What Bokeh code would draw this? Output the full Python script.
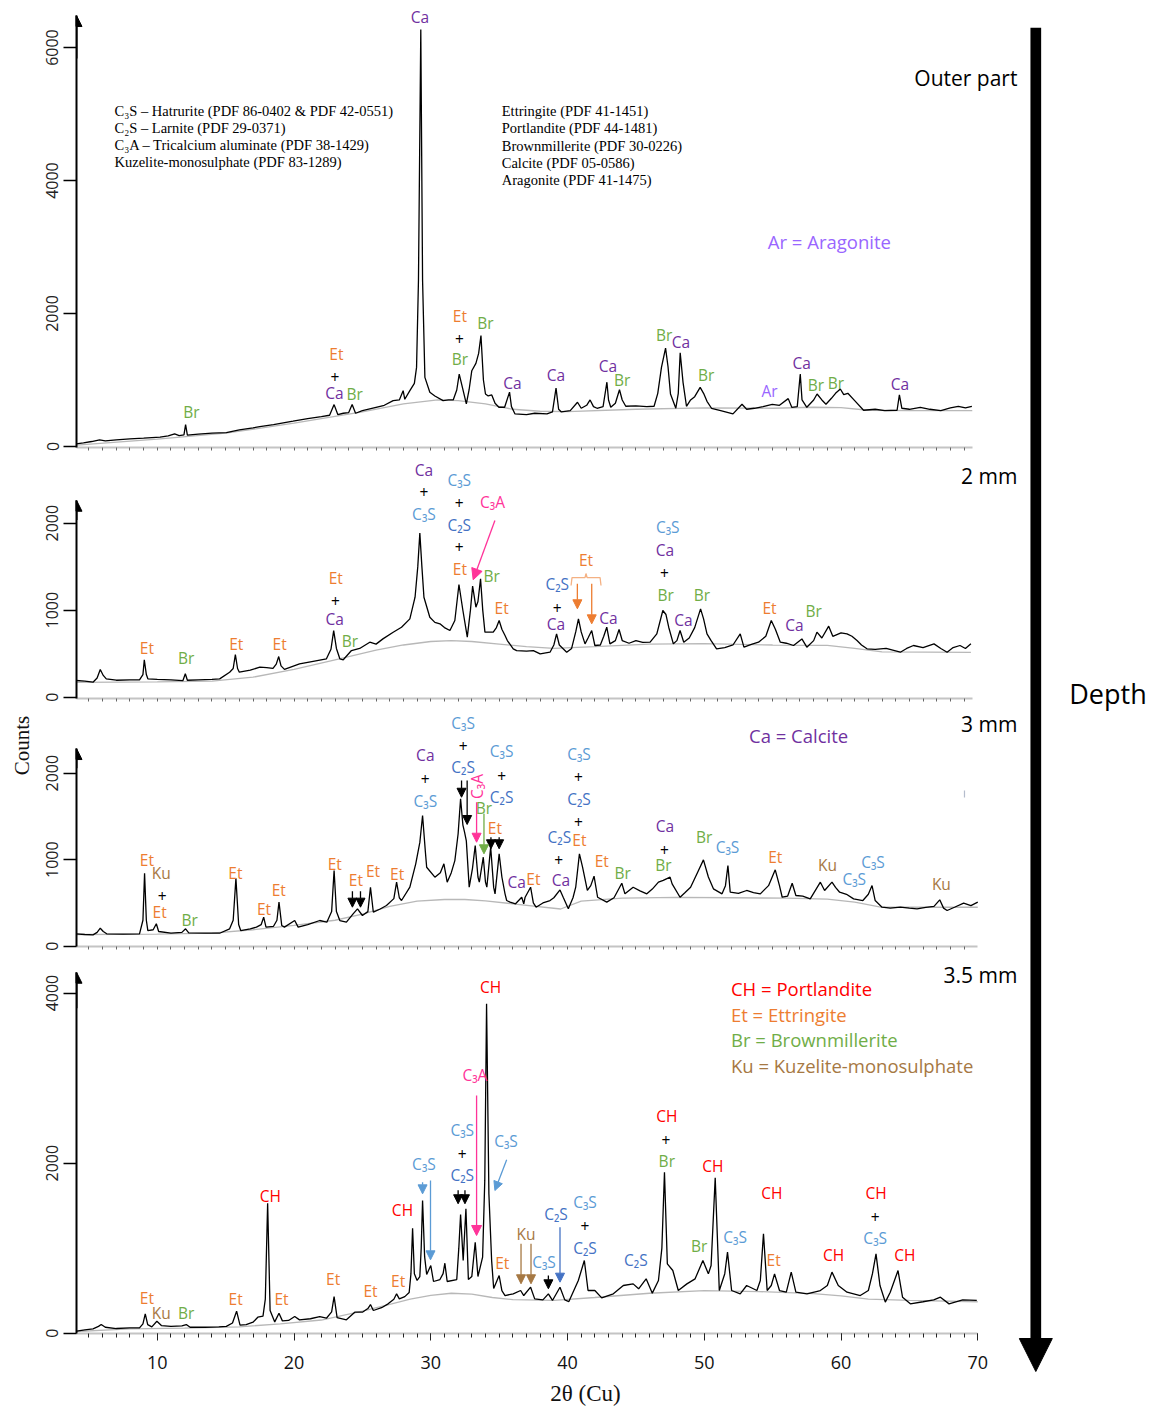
import math
from bokeh.plotting import figure
from bokeh.models import ColumnDataSource, Range1d, FixedTicker, Arrow, NormalHead
from bokeh.layouts import row, column
from bokeh.embed import file_html
from bokeh.resources import INLINE
from bokeh.core.properties import value

# ---------------- data ----------------
# Panel 1 : outer part
p1_tt = [4.07,4.6,5.2,5.78,6.2,7.0,8.0,9.0,10.2,10.8,
         11.27,11.6,11.95,12.07,12.2,13.0,14.0,15.05,16.0,17.0,
         17.5,18.5,19.93,21.0,22.0,22.6,22.93,23.2,23.6,24.0,
         24.25,24.5,25.0,26.0,26.6,27.25,27.7,27.98,28.1,28.47,
         28.8,28.96,29.1,29.27,29.4,29.57,29.93,30.3,30.9,31.3,
         31.64,31.9,32.08,32.3,32.6,32.8,33.0,33.3,33.5,33.67,
         33.85,34.0,34.2,34.46,34.7,34.98,35.4,35.76,35.9,36.16,
         37.0,37.6,38.5,38.9,39.16,39.35,39.55,40.2,40.73,41.0,
         41.4,41.65,41.9,42.16,42.6,42.88,43.0,43.16,43.5,43.8,
         44.0,44.26,45.0,45.8,46.33,46.6,46.87,47.17,47.35,47.53,
         47.92,48.1,48.24,48.45,48.7,49.0,49.3,49.7,49.95,50.2,
         50.53,51.2,52.1,52.76,53.1,53.67,54.3,54.97,55.5,56.14,
         56.4,56.8,57.02,57.15,57.5,58.0,58.25,58.6,58.9,59.3,
         59.6,59.95,60.2,60.5,61.0,61.65,62.5,63.2,64.1,64.27,
         64.45,65.0,65.8,66.5,67.3,68.0,68.58,69.1,69.57]
p1_counts = [40,55,75,100,85,100,115,125,140,160,
             190,165,175,330,170,185,200,210,250,280,
             300,330,380,420,450,470,630,480,500,510,
             630,500,540,590,620,690,700,840,710,840,
             950,1190,2500,6270,2500,1040,815,760,690,700,
             700,850,1090,900,640,850,1140,1250,1400,1670,
             1000,790,760,775,650,590,590,817,600,490,
             480,500,490,520,877,560,520,540,666,575,
             620,700,600,575,600,967,700,590,650,853,
             700,605,610,600,605,800,1190,1480,1200,790,
             575,800,1410,960,605,700,750,890,800,680,
             575,540,490,635,560,575,600,635,620,720,
             590,600,1090,700,590,700,790,700,635,725,
             800,865,780,800,690,545,560,540,545,775,
             575,560,590,560,540,580,605,580,605]
p1_bg_tt = [4.1,10,15,20,25,28,30.5,32,34,36,38,40,45,50,55,58,60,62,65,69.6]
p1_bg = [20,110,200,350,520,640,700,690,640,560,530,525,560,580,575,590,585,545,540,540]

# Panel 2 : 2 mm
p2_tt = [4.07,4.7,5.3,5.6,5.83,6.05,6.27,7.0,8.0,8.7,
         8.95,9.05,9.2,9.31,10.0,11.0,11.87,12.05,12.2,13.0,
         14.0,14.56,15.29,15.55,15.71,15.87,16.0,16.8,17.5,18.0,
         18.46,18.7,18.88,19.05,19.3,20.4,21.3,22.37,22.7,22.9,
         23.1,23.35,23.6,24.2,24.8,25.54,26.0,26.5,27.25,27.86,
         28.47,28.85,29.05,29.2,29.35,29.5,29.93,30.3,30.67,31.0,
         31.4,31.76,32.06,32.35,32.67,32.9,33.06,33.3,33.45,33.64,
         33.8,33.96,34.57,34.8,35.0,35.2,35.43,35.6,36.03,36.28,
         37.0,37.5,38.0,38.72,39.0,39.2,39.4,39.94,40.3,40.6,
         40.8,41.0,41.28,41.5,41.77,42.0,42.4,42.65,42.87,43.1,
         43.5,43.77,44.0,44.5,45.0,45.5,46.04,46.53,46.97,47.2,
         47.4,47.74,48.0,48.23,48.5,48.9,49.3,49.73,49.95,50.2,
         50.5,50.9,51.5,52.1,52.63,52.9,53.5,53.97,54.5,54.9,
         55.2,55.56,56.0,56.53,57.14,57.5,58.0,58.24,58.6,59.1,
         59.4,60.0,60.44,60.8,61.17,61.5,61.9,62.5,63.3,64.34,
         64.8,65.3,66.0,66.8,67.3,67.76,68.2,68.7,69.1,69.5]
p2_counts = [192,185,172,220,318,250,211,195,200,200,
             260,430,260,211,205,200,190,269,195,200,
             205,211,287,330,490,330,287,310,345,340,
             330,380,467,360,320,383,410,441,550,766,
             560,441,430,536,560,632,610,670,747,804,
             900,1149,1500,1885,1500,1149,919,860,843,800,
             766,881,1295,996,690,1000,1276,1034,1100,1360,
             1000,747,747,800,881,780,709,651,556,536,
             530,536,498,517,600,728,600,517,560,750,
             900,750,613,680,766,594,600,700,804,613,
             650,778,651,620,650,630,632,728,996,950,
             804,613,650,766,632,680,800,1015,900,728,
             650,556,570,600,728,575,610,632,700,881,
             780,632,620,594,670,575,650,747,680,816,
             700,740,728,700,651,600,556,550,560,517,
             560,594,570,613,560,517,570,594,560,613]
p2_bg_tt = [4.1,10,14,17,20,23,26,28,30,31.5,33,35,37,39,42,46,50,55,59,61,63,69.5]
p2_bg = [170,175,185,230,320,430,540,600,640,650,640,610,580,560,580,610,615,600,595,560,520,515]

# Panel 3 : 3 mm
p3_tt = [4.07,4.7,5.3,5.6,5.83,6.05,6.3,7.5,8.7,8.95,
         9.07,9.2,9.31,9.7,9.93,10.1,11.0,11.8,12.07,12.3,
         13.5,14.56,15.29,15.55,15.75,15.95,16.1,16.8,17.25,17.6,
         17.78,17.95,18.5,18.75,18.9,19.1,19.3,20.05,20.3,21.0,
         21.88,22.4,22.75,22.93,23.1,23.35,23.83,24.32,24.64,25.0,
         25.4,25.59,25.8,26.3,26.76,27.3,27.5,27.7,27.86,28.47,
         28.9,29.2,29.4,29.6,29.7,30.3,30.7,30.96,31.2,31.5,
         31.76,32.0,32.18,32.35,32.47,32.6,32.81,33.05,33.25,33.45,
         33.55,33.84,34.0,34.1,34.38,34.6,34.7,35.0,35.2,35.43,
         35.55,35.8,36.2,36.65,36.8,36.9,37.3,37.5,37.7,38.2,
         38.72,39.0,39.45,39.7,40.06,40.4,40.6,40.87,41.1,41.45,
         41.7,41.94,42.2,42.87,43.4,43.97,44.2,44.8,45.3,45.8,
         46.2,46.65,47.0,47.5,47.65,48.23,48.6,49.0,49.5,49.94,
         50.3,50.67,51.3,51.55,51.73,51.9,52.5,53.1,53.6,54.1,
         54.7,55.19,55.5,55.7,56.1,56.43,56.7,57.2,57.75,58.49,
         58.8,59.34,59.6,59.9,60.4,60.92,61.6,62.0,62.27,62.5,
         63.0,63.6,64.34,65.0,65.56,66.2,66.8,67.22,67.5,67.76,
         68.3,68.97,69.5,70.0]
p3_counts = [143,135,131,160,208,170,143,140,143,300,
             844,300,181,190,259,170,150,160,201,155,
             150,150,201,300,786,250,181,200,220,250,
             335,220,230,300,509,240,220,297,220,250,
             297,278,400,875,400,297,278,374,432,355,
             400,682,393,430,470,550,740,560,528,682,
             952,1200,1511,1100,913,798,850,952,740,850,
             990,1300,1704,1400,1318,1218,682,900,1164,800,
             740,1029,740,682,1145,680,605,1068,800,605,
             528,509,490,566,490,566,682,500,451,500,
             528,560,651,560,432,560,682,1068,913,644,
             700,809,566,509,560,728,605,682,640,605,
             660,740,760,798,720,566,620,682,850,998,
             800,663,605,700,933,624,610,644,620,605,
             700,883,700,566,580,728,586,580,547,740,
             644,740,680,624,600,547,528,600,701,528,
             451,440,451,440,432,450,460,536,440,413,
             450,497,470,509]
p3_bg_tt = [4.1,10,14,17,20,23,25,27,29,31,32.5,34,36,39.5,41,44,48,52,56,59,61,63,70]
p3_bg = [135,140,150,190,240,300,370,460,520,540,540,525,490,430,520,555,565,560,555,545,510,450,450]

# Panel 4 : 3.5 mm
p4_tt = [4.1,4.7,5.3,5.7,5.9,6.2,7.0,8.0,8.7,8.95,
         9.12,9.3,9.6,9.97,10.3,11.0,11.8,12.12,12.4,13.5,
         14.5,15.05,15.5,15.8,16.05,16.5,17.0,17.35,17.73,17.9,
         18.07,18.25,18.59,18.9,19.15,19.6,20.05,20.4,21.2,21.88,
         22.37,22.75,22.93,23.15,23.83,24.44,25.0,25.4,25.59,25.8,
         26.4,26.88,27.3,27.5,27.7,28.1,28.42,28.55,28.67,28.8,
         29.0,29.2,29.3,29.4,29.55,29.7,30.0,30.2,30.67,30.9,
         31.03,31.2,31.9,32.05,32.18,32.37,32.57,32.75,33.0,33.25,
         33.45,33.79,33.95,34.08,34.25,34.45,34.6,35.0,35.2,35.43,
         36.03,36.57,36.8,37.3,37.6,38.2,38.6,38.9,39.45,39.8,
         40.1,40.79,41.23,41.5,42.0,42.5,43.35,44.08,44.8,45.2,
         45.75,46.2,46.65,46.9,47.09,47.3,47.7,48.1,48.73,49.33,
         49.9,50.3,50.5,50.8,51.1,51.5,51.7,52.0,52.63,53.1,
         53.85,54.1,54.33,54.6,54.9,55.14,55.5,56.0,56.36,56.7,
         57.51,58.49,59.0,59.34,59.8,60.44,61.41,62.0,62.3,62.56,
         62.85,63.24,63.6,64.17,64.5,65.07,66.0,66.78,67.27,67.9,
         68.9,69.93]
p4_counts = [24,40,51,80,102,70,55,63,63,110,
             228,100,75,141,90,80,85,102,70,70,
             75,80,120,259,95,100,129,188,200,400,
             1529,267,133,235,145,150,196,157,170,196,
             176,250,431,184,157,247,247,290,337,267,
             300,345,400,463,404,430,478,700,1235,700,
             620,666,1000,1561,900,690,796,608,631,700,
             823,608,631,1000,1396,855,1463,631,666,1070,
             666,894,1800,3874,1639,855,526,678,500,443,
             463,502,443,541,404,392,463,385,541,392,
             372,620,855,502,502,416,463,561,580,522,
             639,471,620,1000,1893,816,737,502,580,639,
             855,698,796,1827,502,700,953,502,463,561,
             502,620,1169,502,561,698,502,482,718,482,
             463,502,560,718,561,482,443,502,700,933,
             561,365,482,737,424,345,370,392,424,345,
             392,385]
p4_bg_tt = [4.1,8,12,16,19,22,25,27,28.5,30,31.5,33,34.5,36,39,42,46,50,54,58,60,62,65,70]
p4_bg = [20,50,60,75,110,155,260,340,400,445,470,460,420,395,385,420,470,500,490,465,440,400,385,370]

# tick labels
p1_yticks = [0, 2000, 4000, 6000]
p2_yticks = [0, 1000, 2000]
p3_yticks = [0, 1000, 2000]
p4_yticks = [0, 2000, 4000]
x_labelled = [10, 20, 30, 40, 50, 60, 70]

panel_names = ["Outer part", "2 mm", "3 mm", "3.5 mm"]

ref_left = ["C\u2083S \u2013 Hatrurite (PDF 86-0402 & PDF 42-0551)",
            "C\u2082S \u2013 Larnite (PDF 29-0371)",
            "C\u2083A \u2013 Tricalcium aluminate (PDF 38-1429)",
            "Kuzelite-monosulphate (PDF 83-1289)"]
ref_right = ["Ettringite (PDF 41-1451)",
             "Portlandite (PDF 44-1481)",
             "Brownmillerite (PDF 30-0226)",
             "Calcite (PDF 05-0586)",
             "Aragonite (PDF 41-1475)"]

# phase labels (key, 2theta, counts[, angle])
p1_labels = [("Br",12.49,516),("Et",23.1,1394),("+",23.0,1042),("Ca",22.95,802),("Br",24.44,791),
             ("Ca",29.2,6467),("Et",32.13,1970),("+",32.1,1620),("Br",32.13,1319),("Br",34.0,1855),
             ("Ca",35.97,952),("Ca",39.16,1068),("Ca",42.96,1208),("Br",43.99,993),("Br",47.07,1670),
             ("Ca",48.3,1569),("Br",50.14,1068),("Ar",54.77,842),("Ca",57.12,1259),("Br",58.17,932),
             ("Br",59.63,952),("Ca",64.31,942)]
p2_labels = [("Et",9.24,568),("Br",12.12,453),("Et",15.78,613),("Et",18.95,613),("Et",23.05,1372),
             ("+",23.02,1103),("Ca",22.98,893),("Br",24.08,651),("Ca",29.5,2616),("+",29.5,2355),
             ("C3S",29.5,2107),("C3S",32.08,2498),("+",32.08,2233),("C2S",32.08,1984),("+",32.08,1724),
             ("Et",32.13,1475),("C3A",34.52,2241),("Br",34.45,1387),("Et",35.18,1027),("C2S",39.25,1295),
             ("+",39.25,1027),("Ca",39.15,843),("Et",41.35,1582),("Ca",42.99,912),("C3S",47.33,1953),
             ("Ca",47.13,1697),("+",47.08,1425),("Br",47.18,1180),("Br",49.82,1180),("Ca",48.48,889),
             ("Et",54.77,1027),("Ca",56.6,824),("Br",58.0,988)]
p3_labels = [("Et",9.24,991),("Ku",10.29,844),("+",10.36,575),("Et",10.17,393),("Br",12.36,305),
             ("Et",15.71,844),("Et",18.88,644),("Et",17.8,432),("Et",22.98,952),("Et",24.52,771),
             ("Et",25.78,867),("Et",27.54,837),("Ca",29.6,2205),("+",29.6,1935),("C3S",29.6,1684),
             ("C3S",32.37,2578),("+",32.37,2320),("C2S",32.37,2069),("C3A",33.35,1846,math.pi/2),
             ("Br",33.89,1600),("C3S",35.18,2254),("+",35.18,1973),("C2S",35.18,1722),("Et",34.69,1369),
             ("Ca",36.28,740),("Et",37.5,779),("C2S",39.4,1268),("+",39.35,991),("Ca",39.52,760),
             ("C3S",40.84,2224),("+",40.8,1954),("C2S",40.84,1704),("+",40.8,1433),("Et",40.87,1222),
             ("Et",42.5,983),("Br",44.04,844),("Ca",47.13,1384),("+",47.08,1114),("Br",47.01,933),
             ("Br",50.0,1268),("C3S",51.7,1145),("Et",55.19,1029),("Ku",59.02,933),("C3S",62.34,971),
             ("C3S",60.97,779),("Ku",67.34,721)]
p4_labels = [("Et",9.24,416),("Ku",10.29,235),("Br",12.12,235),("Et",15.73,404),("Et",19.08,404),
             ("CH",18.27,1619),("Et",22.86,639),("Et",25.59,502),("Et",27.61,612),("CH",27.93,1451),
             ("C3S",29.5,1984),("C3S",32.3,2384),("+",32.3,2110),("C2S",32.3,1855),("C3A",33.23,3039),
             ("CH",34.38,4069),("C3S",35.5,2266),("Et",35.23,823),("Ku",36.96,1161),("C3S",38.28,843),
             ("C2S",39.16,1396),("C3S",41.28,1541),("+",41.28,1258),("C2S",41.28,1004),("C2S",45.0,855),
             ("CH",47.26,2560),("+",47.2,2274),("Br",47.26,2023),("Br",49.63,1031),("CH",50.63,1972),
             ("C3S",52.26,1137),("CH",54.95,1651),("Et",55.07,855),("CH",59.46,925),("CH",62.56,1651),
             ("+",62.5,1372),("C3S",62.5,1122),("CH",64.66,914)]

# pointer arrows (color key, [(x0, y0, x1, y1), ...], head size)
p2_arrows = [("C3A", [(34.69,2030,33.1,1349)], 11),
             ("Et", [(40.72,1303,40.72,1016),(41.77,1303,41.77,843)], 9)]
p3_arrows = [("+", [(24.27,636,24.27,451),(24.86,636,24.86,451),(32.25,1916,32.25,1722),
                    (32.66,1916,32.66,1407),(34.4,1260,34.4,1126),(35.0,1260,35.0,1126)], 9),
             ("C3A", [(33.35,1665,33.35,1202)], 9),
             ("Br", [(33.89,1530,33.89,1068)], 9)]
p4_arrows = [("C3S", [(29.4,1776,29.4,1639),(29.98,1796,29.98,863),(35.55,2039,34.69,1678)], 9),
             ("+", [(32.0,1680,32.0,1522),(32.5,1680,32.5,1522),(38.6,678,38.6,522)], 9),
             ("C3A", [(33.35,2795,33.35,1149)], 10),
             ("Ku", [(36.6,1051,36.6,581),(37.33,1051,37.33,581)], 9),
             ("C2S", [(39.45,1247,39.45,600)], 9)]

# ---------------- styles ----------------
SANS = "Open Sans"
SERIF = "Liberation Serif"
COL = {"Ca": "#7030A0", "Et": "#ED7D31", "Br": "#70AD47", "C3S": "#5B9BD5", "C2S": "#4472C4",
       "C3A": "#FF3399", "Ku": "#A67843", "CH": "#FF0000", "Ar": "#9966FF", "+": "#000000"}
SHOW = {"C3S": "C\u2083S", "C2S": "C\u2082S", "C3A": "C\u2083A"}

X0, X1 = 4.092, 72.98
PANEL_W = 980
TOTAL_H = 1407


def make_panel(tt, cnt, bg_tt, bg_cnt, top, bottom, zero, cpp, height, yticks, tip, ax_max, last=False):
    y0 = (zero - bottom) * cpp
    y1 = (zero - top) * cpp
    p = figure(width=PANEL_W, height=height, x_range=Range1d(X0, X1), y_range=Range1d(y0, y1),
               output_backend="svg", toolbar_location=None, title=None,
               min_border_left=38, min_border_right=0, min_border_top=0,
               min_border_bottom=top + height - bottom)
    p.outline_line_color = None
    p.grid.visible = False
    p.background_fill_color = "white"
    p.line(bg_tt, bg_cnt, line_color="#b8b8b8", line_width=1.3)
    p.line(tt, cnt, line_color="black", line_width=1.3)

    ya = p.yaxis[0]
    ya.ticker = FixedTicker(ticks=yticks)
    ya.bounds = (y0, tip)
    ya.axis_line_width = 2
    ya.axis_line_color = "black"
    ya.major_tick_out = 13
    ya.major_tick_in = 0
    ya.minor_tick_out = 0
    ya.minor_tick_in = 0
    ya.major_tick_line_width = 1.5
    ya.major_label_orientation = "vertical"
    ya.major_label_text_font = SANS
    ya.major_label_text_font_size = "16px"
    ya.major_label_text_color = "#222222"
    ya.major_label_standoff = 5

    xa = p.xaxis[0]
    xa.bounds = (X0, ax_max)
    xa.axis_line_color = "#c4c4c4"
    xa.axis_line_width = 2
    if last:
        xa.ticker = FixedTicker(ticks=x_labelled, minor_ticks=list(range(5, 71)))
        xa.major_tick_out = 7
        xa.major_tick_in = 0
        xa.minor_tick_out = 4
        xa.minor_tick_in = 0
        xa.major_tick_line_color = "#222222"
        xa.minor_tick_line_color = "#222222"
        xa.major_label_text_font = SANS
        xa.major_label_text_font_size = "18px"
        xa.major_label_text_color = "#111111"
        xa.major_label_standoff = 15
    else:
        xa.ticker = FixedTicker(ticks=[], minor_ticks=list(range(5, 70)))
        xa.major_tick_out = 0
        xa.major_tick_in = 0
        xa.minor_tick_out = 3
        xa.minor_tick_in = 0
        xa.minor_tick_line_color = "#666666"
        xa.major_label_standoff = 0

    # arrow head on the y axis
    p.add_layout(Arrow(end=NormalHead(size=11, fill_color="black", line_color="black"),
                       x_start=X0, y_start=tip * 0.9, x_end=X0, y_end=tip,
                       line_color="black", line_width=2))
    return p


def add_labels(p, items):
    xs, ys, ts, cs, an = [], [], [], [], []
    for it in items:
        key = it[0]
        xs.append(it[1]); ys.append(it[2])
        ts.append(SHOW.get(key, key)); cs.append(COL[key])
        an.append(it[3] if len(it) > 3 else 0.0)
    src = ColumnDataSource(dict(x=xs, y=ys, text=ts, color=cs, angle=an))
    p.text(x="x", y="y", text="text", text_color="color", angle="angle", source=src,
           text_font=value(SANS), text_font_size="15.5px", text_align="center", text_baseline="middle")


def add_arrows(p, groups):
    for key, segs, size in groups:
        c = COL[key]
        src = ColumnDataSource(dict(x0=[s[0] for s in segs], y0=[s[1] for s in segs],
                                    x1=[s[2] for s in segs], y1=[s[3] for s in segs]))
        p.add_layout(Arrow(end=NormalHead(size=size, fill_color=c, line_color=c, line_width=1),
                           x_start="x0", y_start="y0", x_end="x1", y_end="y1", source=src,
                           line_color=c, line_width=1.3))


def add_text(p, x, y, txt, color="black", size="21px", align="right", font=SANS):
    p.text(x=[x], y=[y], text=[txt], text_color=color, text_font=value(font), text_font_size=size,
           text_align=align, text_baseline="middle")


p1 = make_panel(p1_tt, p1_counts, p1_bg_tt, p1_bg, 0, 447, 446, 15.04, 460, p1_yticks, 6482, 69.6)
p2 = make_panel(p2_tt, p2_counts, p2_bg_tt, p2_bg, 460, 698, 696.7, 11.49, 246, p2_yticks, 2263, 69.6)
p3 = make_panel(p3_tt, p3_counts, p3_bg_tt, p3_bg, 706, 946, 945.7, 11.56, 248, p3_yticks, 2285, 70)
p4 = make_panel(p4_tt, p4_counts, p4_bg_tt, p4_bg, 954, 1333, 1332.7, 11.76, 427, p4_yticks, 4245, 70, last=True)

add_labels(p1, p1_labels)
add_labels(p2, p2_labels)
add_labels(p3, p3_labels)
add_labels(p4, p4_labels)
add_arrows(p2, p2_arrows)
add_arrows(p3, p3_arrows)
add_arrows(p4, p4_arrows)

# brace above the two Et arrows (panel 2)
p2.line([40.26, 40.33, 41.28, 41.35, 41.43, 42.38, 42.45], [1283, 1375, 1375, 1421, 1375, 1375, 1283],
        line_color="#F4B183", line_width=1.3)
# stray mark in panel 3
p3.line([69.03, 69.03], [1800, 1719], line_color="#b4bccc", line_width=1.2)

# depth names
add_text(p1, 72.9, 5539, panel_names[0])
add_text(p2, 72.9, 2547, panel_names[1])
add_text(p3, 72.9, 2574, panel_names[2])
add_text(p4, 72.9, 4218, panel_names[3])

# reference lists
for i, t in enumerate(ref_left):
    add_text(p1, 6.87, 5053 - i * 258, t, size="14.5px", align="left", font=SERIF)
for i, t in enumerate(ref_right):
    add_text(p1, 35.19, 5043 - i * 258, t, size="14.5px", align="left", font=SERIF)

# legends
add_text(p1, 59.15, 3088, "Ar = Aragonite", color=COL["Ar"], size="18.5px", align="center")
add_text(p3, 56.9, 2436, "Ca = Calcite", color=COL["Ca"], size="18.5px", align="center")
for i, (k, t) in enumerate([("CH", "CH = Portlandite"), ("Et", "Et = Ettringite"),
                            ("Br", "Br = Brownmillerite"), ("Ku", "Ku = Kuzelite-monosulphate")]):
    add_text(p4, 51.95, 4054 - i * 302, t, color=COL[k], size="18.5px", align="left")

# bottom strip with the x-axis title
pb = figure(width=PANEL_W, height=26, x_range=Range1d(X0, X1), y_range=Range1d(26, 0),
            output_backend="svg", toolbar_location=None, title=None,
            x_axis_location=None, y_axis_location=None,
            min_border_left=38, min_border_right=0, min_border_top=0, min_border_bottom=0)
pb.outline_line_color = None
pb.grid.visible = False
pb.text(x=[41.32], y=[12], text=["2\u03b8 (Cu)"], text_font=value(SERIF), text_font_size="23px",
        text_align="center", text_baseline="middle", text_color="#111111")

# left strip with the y title
pl = figure(width=38, height=TOTAL_H, x_range=Range1d(0, 38), y_range=Range1d(TOTAL_H, 0),
            output_backend="svg", toolbar_location=None, title=None,
            x_axis_location=None, y_axis_location=None, min_border=0)
pl.outline_line_color = None
pl.grid.visible = False
pl.text(x=[21], y=[745], text=["Counts"], angle=math.pi / 2, text_font=value(SERIF),
        text_font_size="21px", text_align="center", text_baseline="middle", text_color="#111111")

# right strip with the depth arrow
pa = figure(width=130, height=TOTAL_H, x_range=Range1d(0, 130), y_range=Range1d(TOTAL_H, 0),
            output_backend="svg", toolbar_location=None, title=None,
            x_axis_location=None, y_axis_location=None, min_border=0)
pa.outline_line_color = None
pa.grid.visible = False
pa.add_layout(Arrow(end=NormalHead(size=33, fill_color="black", line_color="black"),
                    x_start=17.3, y_start=27.3, x_end=17.3, y_end=1371,
                    line_color="black", line_width=10.7))
pa.text(x=[89.5], y=[692.7], text=["Depth"], text_font=value(SANS), text_font_size="27px",
        text_align="center", text_baseline="middle", text_color="black")

layout = row(pl, column(p1, p2, p3, p4, pb), pa)
open("out.html", "w").write(file_html(layout, INLINE))
